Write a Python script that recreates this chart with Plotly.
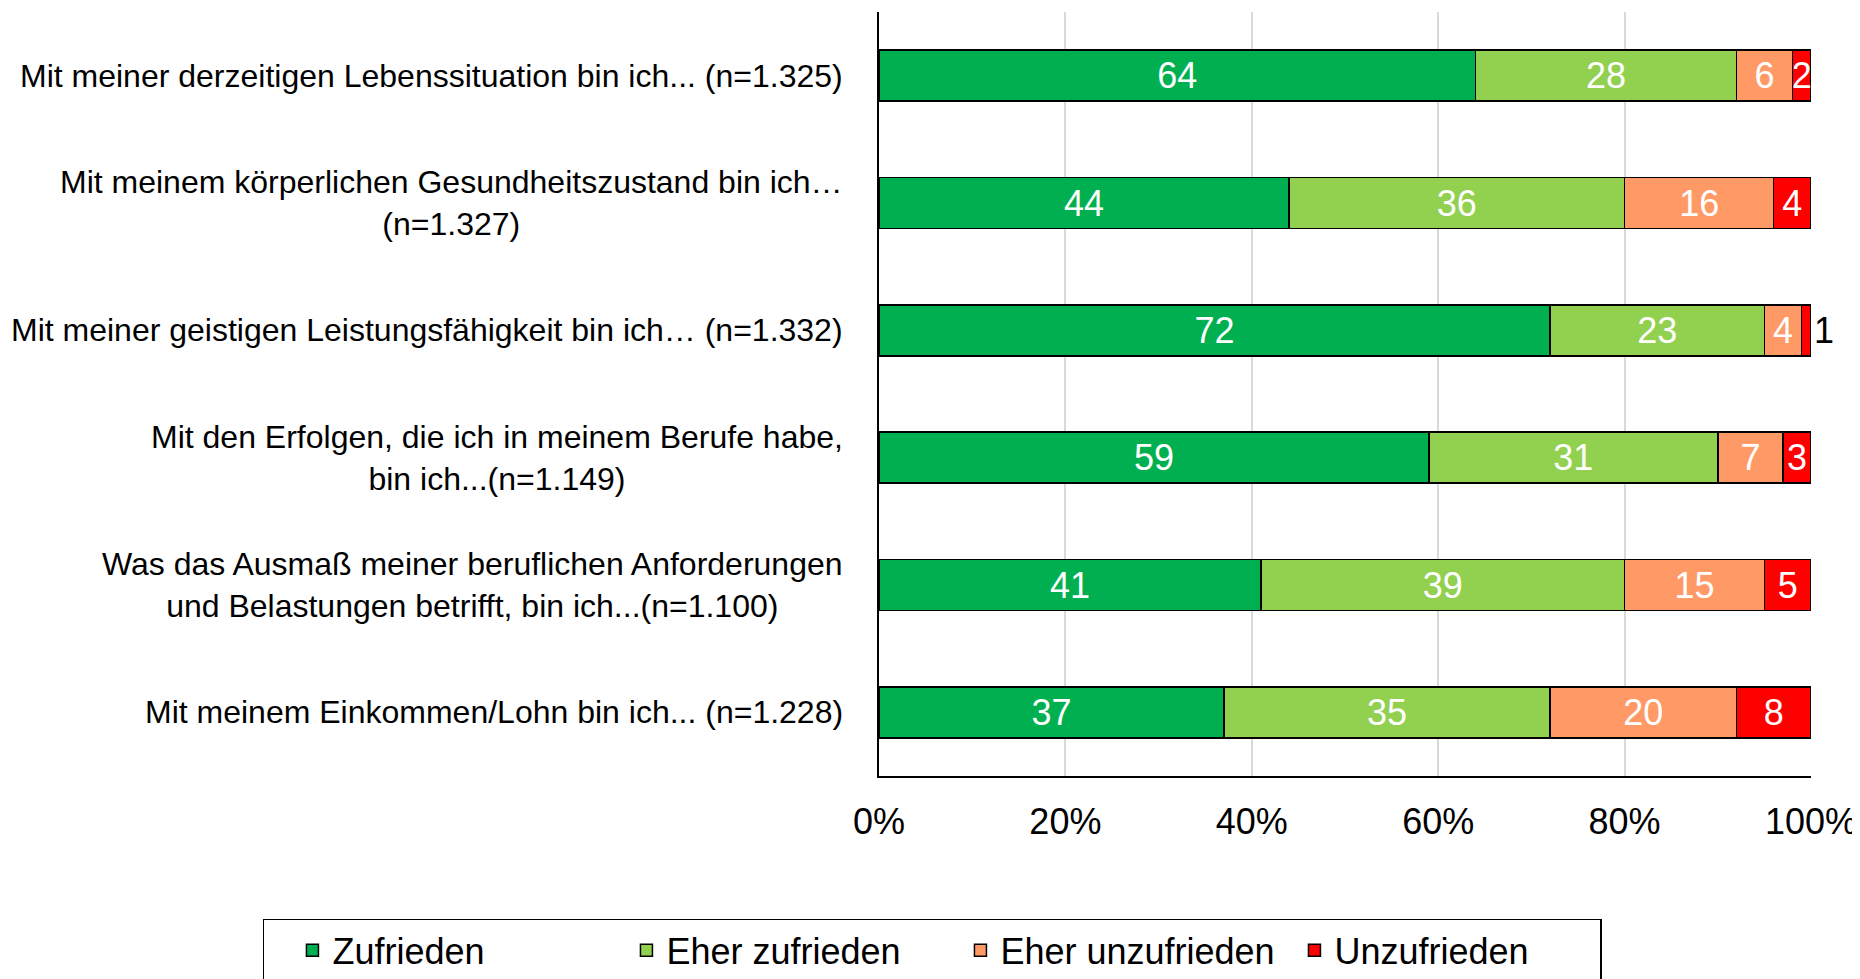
import plotly.graph_objects as go

# survey items (top to bottom)
items = [
    "Mit meiner derzeitigen Lebenssituation bin ich... (n=1.325)",
    "Mit meinem körperlichen Gesundheitszustand bin ich…<br>(n=1.327)",
    "Mit meiner geistigen Leistungsfähigkeit bin ich… (n=1.332)",
    "Mit den Erfolgen, die ich in meinem Berufe habe,<br>bin ich...(n=1.149)",
    "Was das Ausmaß meiner beruflichen Anforderungen<br>und Belastungen betrifft, bin ich...(n=1.100)",
    "Mit meinem Einkommen/Lohn bin ich... (n=1.228)",
]

zufrieden = [64, 44, 72, 59, 41, 37]
eher_zufrieden = [28, 36, 23, 31, 39, 35]
eher_unzufrieden = [6, 16, 4, 7, 15, 20]
unzufrieden = [2, 4, 1, 3, 5, 8]

series = [
    ("Zufrieden", zufrieden, "#00B050"),
    ("Eher zufrieden", eher_zufrieden, "#92D050"),
    ("Eher unzufrieden", eher_unzufrieden, "#FF9966"),
    ("Unzufrieden", unzufrieden, "#FF0000"),
]

font_family = "Liberation Sans, Arial, sans-serif"

fig = go.Figure()
for name, vals, color in series:
    # tiny segments get their label outside (only the 1 in row 3)
    if name == "Unzufrieden":
        pos = ["outside" if v < 2 else "inside" for v in vals]
    else:
        pos = "inside"
    fig.add_trace(go.Bar(
        y=items, x=vals, name=name, orientation="h",
        marker=dict(color=color, line=dict(color="black", width=1.5)),
        text=vals, texttemplate="%{text}", textposition=pos,
        insidetextanchor="middle", textangle=0, constraintext="none",
        insidetextfont=dict(color="white", size=36, family=font_family),
        outsidetextfont=dict(color="black", size=36, family=font_family),
        cliponaxis=False,
    ))

# category labels, centred multi-line like the original
for lab in items:
    fig.add_annotation(
        x=0, xref="paper", y=lab, yref="y", text=lab, showarrow=False,
        xanchor="right", xshift=-34, align="center",
        font=dict(size=32, color="black", family=font_family),
    )

fig.update_layout(
    barmode="stack", bargap=0.6,
    width=1860, height=979,
    margin=dict(l=871, r=57, t=4, b=211),
    plot_bgcolor="white", paper_bgcolor="white",
    font=dict(family=font_family, color="black"),
    xaxis=dict(
        range=[0, 100], tickvals=[0, 20, 40, 60, 80, 100],
        ticktext=["0%", "20%", "40%", "60%", "80%", "100%"],
        tickfont=dict(size=36), showgrid=True, gridcolor="#D9D9D9", gridwidth=1.5,
        zeroline=False, showline=True, linecolor="black", linewidth=1.5,
        ticks="outside", ticklen=13, tickcolor="rgba(0,0,0,0)",
    ),
    yaxis=dict(
        autorange="reversed", showticklabels=False, showgrid=False,
        zeroline=False, showline=True, linecolor="black", linewidth=1.5,
    ),
    legend=dict(
        orientation="h",
        x=-0.661, xanchor="left", y=-0.187, yanchor="top",
        bordercolor="black", borderwidth=1.5,
        font=dict(size=36, family=font_family),
        entrywidth=261, entrywidthmode="pixels", indentation=28,
        traceorder="normal",
    ),
)

fig.write_html("out.html")
